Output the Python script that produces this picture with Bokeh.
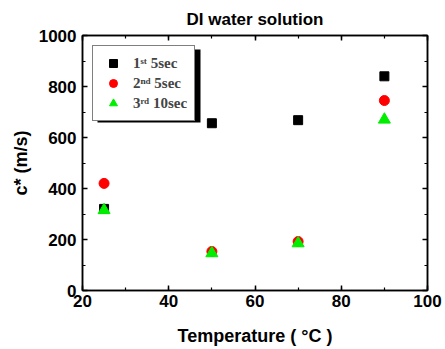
from bokeh.plotting import figure
from bokeh.models import (LinearAxis, SingleIntervalTicker, Legend, LegendItem,
                          BoxAnnotation, Range1d)
from bokeh.embed import file_html
from bokeh.resources import INLINE

temps = [25, 50, 70, 90]
first_5sec = [320, 656, 668, 840]
second_5sec = [420, 153, 192, 745]
third_10sec = [315, 146, 185, 670]

x_ticks_interval = 20
y_ticks_interval = 200

W, H = 445, 349
BL, BR, BT, BB = 82, 18, 35, 59
p = figure(width=W, height=H, output_backend="svg", toolbar_location=None,
           x_range=Range1d(20, 100), y_range=Range1d(0, 1000),
           min_border_left=BL, min_border_right=BR, min_border_top=BT, min_border_bottom=BB,
           title="DI water solution")
p.title.align = "center"
p.title.text_font = "Liberation Sans"
p.title.text_font_size = "17px"
p.title.text_font_style = "bold"
p.title.text_color = "black"
p.title.offset = 0
p.title.standoff = 14
p.grid.visible = False
p.outline_line_color = "black"
p.outline_line_width = 1.5
p.background_fill_color = "white"
p.border_fill_color = "white"

def style_axis(ax, interval, labels=True):
    ax.ticker = SingleIntervalTicker(interval=interval, num_minor_ticks=2)
    ax.major_tick_in = 5
    ax.major_tick_out = 0
    ax.minor_tick_in = 3
    ax.minor_tick_out = 0
    ax.axis_line_color = "black"
    ax.axis_line_width = 1.5
    ax.major_tick_line_width = 1.5
    ax.minor_tick_line_width = 1.2
    ax.major_label_text_font = "Liberation Sans"
    ax.major_label_text_font_style = "bold"
    ax.major_label_text_font_size = "17px"
    ax.major_label_text_color = "black"
    ax.axis_label_text_font = "Liberation Sans"
    ax.axis_label_text_font_style = "bold"
    ax.axis_label_text_font_size = "18px"
    ax.axis_label_text_color = "black"
    if not labels:
        ax.major_label_overrides = {v: "" for v in range(0, 1001, 10)}
        ax.major_label_standoff = 0

style_axis(p.xaxis[0], x_ticks_interval)
style_axis(p.yaxis[0], y_ticks_interval)
p.xaxis[0].axis_label = "Temperature ( \u00b0C )"
p.yaxis[0].axis_label = "c* (m/s)"
p.xaxis[0].major_label_standoff = 4
p.yaxis[0].major_label_standoff = 6
p.xaxis[0].axis_label_standoff = 16
p.yaxis[0].axis_label_standoff = 5

top_ax = LinearAxis()
style_axis(top_ax, x_ticks_interval, labels=False)
p.add_layout(top_ax, "above")
right_ax = LinearAxis()
style_axis(right_ax, y_ticks_interval, labels=False)
p.add_layout(right_ax, "right")

r1 = p.scatter(temps, first_5sec, marker="square", size=9, color="black")
r2 = p.scatter(temps, second_5sec, marker="circle", size=10, color="red")
r3 = p.scatter(temps, third_10sec, marker="triangle", size=12, color="#00ee00")

# legend shadow (frame is 345px x 255px for 80 x 1000 units)
FW = W - BL - BR
FH = H - BT - BB
px_x = 80 / FW
px_y = 1000 / FH
shadow = BoxAnnotation(left=20 + 15 * px_x, right=20 + 118 * px_x,
                       top=1000 - 14 * px_y, bottom=1000 - 87 * px_y,
                       fill_color="black", fill_alpha=1.0, line_color=None)
p.add_layout(shadow)

legend = Legend(items=[
    LegendItem(label="1\u02e2\u1d57 5sec", renderers=[r1]),
    LegendItem(label="2\u207f\u1d48 5sec", renderers=[r2]),
    LegendItem(label="3\u02b3\u1d48 10sec", renderers=[r3]),
], location="top_left")
legend.margin = 10
legend.padding = 7
legend.spacing = -1
legend.label_height = 20
legend.glyph_height = 20
legend.glyph_width = 26
legend.label_standoff = 7
legend.label_text_font = "Liberation Serif"
legend.label_text_font_style = "bold"
legend.label_text_font_size = "15px"
legend.border_line_color = "black"
legend.border_line_width = 1
legend.background_fill_alpha = 1.0
p.add_layout(legend)

open("out.html", "w").write(file_html(p, INLINE))
